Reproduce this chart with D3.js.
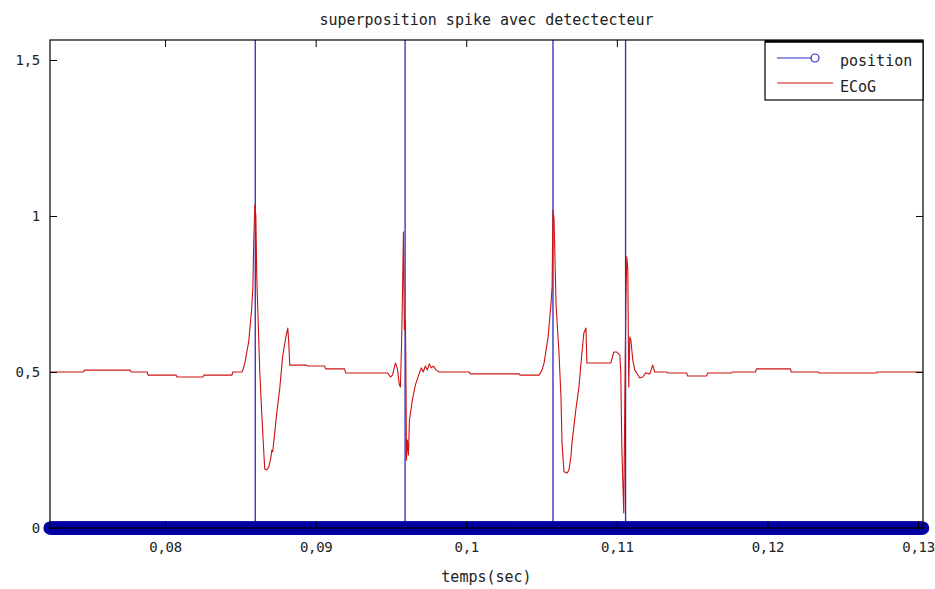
<!DOCTYPE html>
<html>
<head>
<meta charset="utf-8">
<script src="https://cdn.jsdelivr.net/npm/d3@7/dist/d3.min.js"></script>
<style>
  html, body { margin: 0; padding: 0; background: #fff; }
  svg { display: block; }
  text { font-family: "DejaVu Sans Mono", "Liberation Mono", monospace; fill: #222; }
</style>
</head>
<body>
<svg id="chart" width="935" height="589"></svg>
<script>
// ECoG trace (time in s, amplitude)
const ecogTime = [
  0.07238, 0.07457, 0.07464, 0.07768, 0.07775, 0.07881, 0.07887, 0.08073, 0.08079, 0.08252,
  0.08258, 0.08444, 0.08450, 0.08510, 0.08517, 0.08530, 0.08556, 0.08576, 0.08583, 0.08589,
  0.08596, 0.08603, 0.08609, 0.08616, 0.08629, 0.08642, 0.08656, 0.08662, 0.08675, 0.08689,
  0.08702, 0.08709, 0.08715, 0.08742, 0.08762, 0.08781, 0.08801, 0.08815, 0.08821, 0.08828,
  0.08940, 0.08947, 0.09060, 0.09066, 0.09192, 0.09199, 0.09477, 0.09497, 0.09510, 0.09530,
  0.09543, 0.09556, 0.09563, 0.09570, 0.09576, 0.09583, 0.09589, 0.09596, 0.09599, 0.09603,
  0.09609, 0.09616, 0.09623, 0.09642, 0.09662, 0.09689, 0.09702, 0.09715, 0.09728, 0.09742,
  0.09755, 0.09768, 0.09781, 0.09801, 0.09821, 0.10020, 0.10026, 0.10351, 0.10358, 0.10483,
  0.10503, 0.10517, 0.10543, 0.10563, 0.10570, 0.10576, 0.10583, 0.10596, 0.10616, 0.10629,
  0.10636, 0.10649, 0.10669, 0.10682, 0.10695, 0.10702, 0.10728, 0.10748, 0.10768, 0.10781,
  0.10795, 0.10801, 0.10960, 0.10980, 0.11000, 0.11020, 0.11026, 0.11033, 0.11046, 0.11053,
  0.11060, 0.11066, 0.11073, 0.11079, 0.11086, 0.11093, 0.11106, 0.11119, 0.11132, 0.11152,
  0.11172, 0.11192, 0.11219, 0.11238, 0.11252, 0.11331, 0.11338, 0.11464, 0.11470, 0.11596,
  0.11603, 0.11762, 0.11768, 0.11921, 0.11927, 0.12152, 0.12159, 0.12338, 0.12344, 0.12722,
  0.12728, 0.13030
];
const ecogValue = [
  0.500, 0.500, 0.506, 0.506, 0.500, 0.500, 0.490, 0.490, 0.484, 0.484,
  0.490, 0.490, 0.500, 0.500, 0.506, 0.529, 0.599, 0.708, 0.769, 0.920,
  1.035, 1.000, 0.804, 0.699, 0.500, 0.369, 0.240, 0.189, 0.186, 0.196,
  0.224, 0.250, 0.244, 0.369, 0.449, 0.551, 0.609, 0.641, 0.599, 0.522,
  0.522, 0.519, 0.519, 0.510, 0.510, 0.497, 0.497, 0.484, 0.490, 0.529,
  0.510, 0.458, 0.452, 0.580, 0.731, 0.949, 0.635, 0.667, 0.538, 0.218,
  0.282, 0.234, 0.346, 0.410, 0.458, 0.497, 0.513, 0.500, 0.519, 0.506,
  0.526, 0.513, 0.519, 0.506, 0.500, 0.500, 0.494, 0.494, 0.490, 0.490,
  0.506, 0.529, 0.610, 0.721, 0.772, 1.019, 0.990, 0.721, 0.560, 0.420,
  0.272, 0.180, 0.176, 0.186, 0.228, 0.272, 0.380, 0.450, 0.561, 0.625,
  0.641, 0.529, 0.529, 0.564, 0.564, 0.554, 0.500, 0.260, 0.048, 0.410,
  0.731, 0.869, 0.827, 0.452, 0.612, 0.603, 0.538, 0.506, 0.497, 0.481,
  0.484, 0.497, 0.494, 0.522, 0.500, 0.500, 0.497, 0.497, 0.487, 0.487,
  0.497, 0.497, 0.500, 0.500, 0.510, 0.510, 0.500, 0.500, 0.497, 0.497,
  0.500, 0.500
];

// Detector output: zero on every sample, high at each detected spike
const sampleStart = 0.07236;
const sampleEnd = 0.13033;
const sampleStep = 0.00005;
const detectionTime = [0.08599, 0.09594, 0.10576, 0.11058];
const detectionLevel = 2;

const xTicks = [0.08, 0.09, 0.10, 0.11, 0.12, 0.13];
const yTicks = [0, 0.5, 1, 1.5];

const titleText = "superposition spike avec detectecteur";
const xLabelText = "temps(sec)";
const seriesNames = ["position", "ECoG"];

const W = 935, H = 589;
const plot = { left: 50, right: 923, top: 40, bottom: 528 };
const blue = "#0000a4";
const blueLine = "#2a2ac0";
const red = "#cc1212";
const FONT = 15;

const svg = d3.select("#chart");
svg.append("rect").attr("width", W).attr("height", H).attr("fill", "#fff");

const x = d3.scaleLinear().domain([sampleStart, sampleEnd]).range([plot.left, plot.right]);
const y = d3.scaleLinear().domain([0, 1.564]).range([plot.bottom, plot.top]);

const comma = d => d3.format("~g")(d).replace(".", ",");

svg.append("clipPath").attr("id", "plotClip")
  .append("rect")
  .attr("x", plot.left).attr("y", plot.top)
  .attr("width", plot.right - plot.left).attr("height", plot.bottom - plot.top);

// Detector: vertical strokes up to the detection level
const posG = svg.append("g");
posG.append("g").attr("clip-path", "url(#plotClip)")
  .selectAll("line").data(detectionTime).join("line")
  .attr("x1", d => x(d)).attr("x2", d => x(d))
  .attr("y1", y(0)).attr("y2", y(detectionLevel))
  .attr("stroke", blueLine).attr("stroke-width", 1.3);

// Detector: circle markers on every zero-valued sample
const sampleTimes = d3.range(sampleStart, sampleEnd + sampleStep / 2, sampleStep);
posG.append("g").selectAll("circle").data(sampleTimes).join("circle")
  .attr("cx", d => x(d)).attr("cy", y(0)).attr("r", 5.8)
  .attr("fill", "none").attr("stroke", blue).attr("stroke-width", 1.6);

// ECoG trace
const ecog = ecogTime.map((t, i) => [t, ecogValue[i]]);
svg.append("path").datum(ecog)
  .attr("clip-path", "url(#plotClip)")
  .attr("fill", "none").attr("stroke", red).attr("stroke-width", 1.1)
  .attr("stroke-linejoin", "round")
  .attr("d", d3.line().x(d => x(d[0])).y(d => y(d[1])));

// Axes with inward ticks on all four sides
const tickLen = 7;
const styleAxis = g => {
  g.select(".domain").remove();
  g.selectAll(".tick line").attr("stroke", "#000");
  g.selectAll("text").style("font-family", "DejaVu Sans Mono, monospace")
    .attr("fill", "#222").attr("font-size", 14).attr("letter-spacing", -0.3);
};
svg.append("g").attr("transform", `translate(0,${plot.bottom})`)
  .call(d3.axisBottom(x).tickValues(xTicks).tickFormat(comma).tickSize(-tickLen).tickPadding(14))
  .call(styleAxis);
svg.append("g").attr("transform", `translate(0,${plot.top})`)
  .call(d3.axisTop(x).tickValues(xTicks).tickFormat("").tickSize(-tickLen))
  .call(styleAxis);
svg.append("g").attr("transform", `translate(${plot.left},0)`)
  .call(d3.axisLeft(y).tickValues(yTicks).tickFormat(comma).tickSize(-tickLen).tickPadding(10))
  .call(styleAxis);
svg.append("g").attr("transform", `translate(${plot.right},0)`)
  .call(d3.axisRight(y).tickValues(yTicks).tickFormat("").tickSize(-tickLen))
  .call(styleAxis);

// Frame
svg.append("rect")
  .attr("x", plot.left).attr("y", plot.top)
  .attr("width", plot.right - plot.left).attr("height", plot.bottom - plot.top)
  .attr("fill", "none").attr("stroke", "#000").attr("stroke-width", 1.2);

// Title and axis label
svg.append("text").attr("x", (plot.left + plot.right) / 2).attr("y", 25)
  .attr("text-anchor", "middle").attr("font-size", FONT).text(titleText);
svg.append("text").attr("x", (plot.left + plot.right) / 2).attr("y", 582)
  .attr("text-anchor", "middle").attr("font-size", FONT).text(xLabelText);

// Legend
const lg = svg.append("g");
lg.append("rect").attr("x", 765).attr("y", 41).attr("width", 158).attr("height", 59)
  .attr("fill", "#fff").attr("stroke", "#000").attr("stroke-width", 1.2);
lg.append("line").attr("x1", 765).attr("x2", 923).attr("y1", 41.5).attr("y2", 41.5)
  .attr("stroke", "#000").attr("stroke-width", 2.5);
lg.append("line").attr("x1", 777).attr("x2", 811).attr("y1", 58).attr("y2", 58)
  .attr("stroke", blueLine).attr("stroke-width", 1.2);
lg.append("circle").attr("cx", 815).attr("cy", 58).attr("r", 4)
  .attr("fill", "#fff").attr("stroke", blueLine).attr("stroke-width", 1.2);
lg.append("line").attr("x1", 777).attr("x2", 833).attr("y1", 83).attr("y2", 83)
  .attr("stroke", red).attr("stroke-width", 1.2);
lg.selectAll("text.lab").data(seriesNames).join("text").attr("class", "lab")
  .attr("x", 840).attr("y", (d, i) => i === 0 ? 66 : 92)
  .attr("font-size", FONT).text(d => d);
</script>
</body>
</html>
